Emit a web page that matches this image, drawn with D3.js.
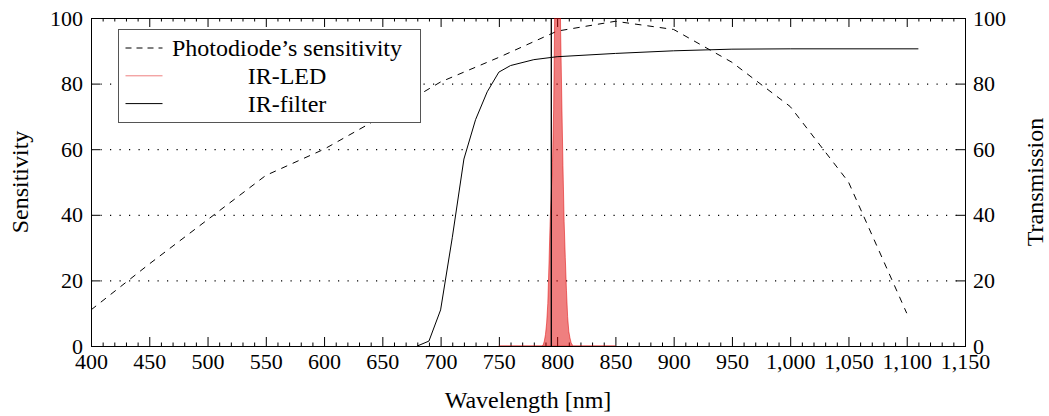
<!DOCTYPE html>
<html>
<head>
<meta charset="utf-8">
<script src="https://cdn.jsdelivr.net/npm/d3@7"></script>
<style>
  body { margin: 0; background: #fff; }
</style>
</head>
<body>
<div id="chart"></div>
<script>
var width  = 1049;
var height = 416;
var margin = {top: 18, right: 84, bottom: 70, left: 91};
var serif  = "'Liberation Serif'";

// tick values
var wavelengthTicks = [400, 450, 500, 550, 600, 650, 700, 750, 800, 850, 900, 950, 1000, 1050, 1100, 1150];
var percentTicks    = [0, 20, 40, 60, 80, 100];
var gridLevels      = [20, 40, 60, 80];

// photodiode sensitivity [nm, %]
var photodiode = [
    [400, 11], [450, 25], [500, 38.5], [550, 52], [600, 60], [650, 70], [700, 80.5],
    [750, 88], [800, 96], [850, 99], [900, 96.5], [950, 86.5], [1000, 73], [1050, 50], [1100, 10]
];

// IR-filter transmission [nm, %]
var irFilter = [
    [680, 0], [690, 1.5], [700, 11], [710, 33], [720, 57], [730, 69], [740, 77.5],
    [750, 83.5], [760, 85.5], [780, 87.3], [800, 88.2], [850, 89.2], [900, 90],
    [950, 90.5], [1000, 90.6], [1110, 90.6]
];

// IR-LED emission [nm, %] (peak goes past the top of the axis)
var irLed = [
    [750, 0], [787, 0], [788, 0.3], [789, 1.5], [790, 3.5], [791, 7], [792, 13], [793, 25],
    [794, 38], [795, 47], [796, 56], [797, 72], [798, 104], [799, 130], [800, 145],
    [801, 145], [802, 125], [803, 96], [804, 75], [805, 55], [806, 38], [807, 27],
    [808, 17], [809, 9], [810, 4.5], [811, 2.5], [812, 1], [813, 0.3], [814, 0], [850, 0]
];

var markerWavelength = 795;

var legendItems = [
    {label: "Photodiode\u2019s sensitivity", type: "dashed"},
    {label: "IR-LED", type: "led"},
    {label: "IR-filter", type: "solid"}
];

var x = d3.scaleLinear()
    .domain([400, 1150])
    .range([margin.left, width - margin.right]);

var y = d3.scaleLinear()
    .domain([0, 100])
    .range([height - margin.bottom, margin.top]);

var svg = d3.select("#chart")
    .append("svg")
    .attr("width", width)
    .attr("height", height);

svg.append("defs").append("clipPath")
    .attr("id", "plotclip")
    .append("rect")
    .attr("x", x(400))
    .attr("y", y(100))
    .attr("width", x(1150) - x(400))
    .attr("height", y(0) - y(100));

// grid
svg.append("g")
    .selectAll("line")
    .data(gridLevels)
    .enter().append("line")
    .attr("x1", x(400))
    .attr("x2", x(1150))
    .attr("y1", function(d) { return y(d) + 0.5; })
    .attr("y2", function(d) { return y(d) + 0.5; })
    .attr("stroke", "#000")
    .attr("stroke-width", 1.3)
    .attr("stroke-dasharray", "1.2,8.3");

// axes
var minorTicks = d3.range(400, 1151, 10).filter(function(d) { return d % 50 !== 0; });

function styleAxis(g) {
    g.select(".domain").remove();
    g.selectAll("line").attr("stroke", "#000");
    g.selectAll("text")
        .style("font-family", serif)
        .style("font-size", "22px")
        .attr("fill", "#000");
}

svg.append("g")
    .attr("transform", "translate(0," + y(0) + ")")
    .call(d3.axisBottom(x).tickValues(minorTicks).tickSize(-3.5).tickFormat(""))
    .call(styleAxis);

svg.append("g")
    .attr("transform", "translate(0," + y(0) + ")")
    .call(d3.axisBottom(x).tickValues(wavelengthTicks).tickSizeInner(-9).tickSizeOuter(0)
        .tickPadding(7).tickFormat(d3.format(",")))
    .call(styleAxis);

svg.append("g")
    .attr("transform", "translate(0," + y(100) + ")")
    .call(d3.axisTop(x).tickValues(minorTicks).tickSize(-3.5).tickFormat(""))
    .call(styleAxis);

svg.append("g")
    .attr("transform", "translate(0," + y(100) + ")")
    .call(d3.axisTop(x).tickValues(wavelengthTicks).tickSize(-9).tickFormat(""))
    .call(styleAxis);

svg.append("g")
    .attr("transform", "translate(" + x(400) + ",0)")
    .call(d3.axisLeft(y).tickValues(percentTicks).tickSizeInner(-9).tickSizeOuter(0).tickPadding(8))
    .call(styleAxis);

svg.append("g")
    .attr("transform", "translate(" + x(1150) + ",0)")
    .call(d3.axisRight(y).tickValues(percentTicks).tickSizeInner(-9).tickSizeOuter(0).tickPadding(8))
    .call(styleAxis);

svg.append("rect")
    .attr("x", x(400) + 0.5)
    .attr("y", y(100) + 0.5)
    .attr("width", x(1150) - x(400))
    .attr("height", y(0) - y(100))
    .attr("fill", "none")
    .attr("stroke", "#000")
    .attr("stroke-width", 1);

// series
var line = d3.line()
    .x(function(d) { return x(d[0]); })
    .y(function(d) { return y(d[1]); });

var area = d3.area()
    .x(function(d) { return x(d[0]); })
    .y0(y(0))
    .y1(function(d) { return y(d[1]); });

svg.append("path")
    .attr("d", line(photodiode))
    .attr("fill", "none")
    .attr("stroke", "#000")
    .attr("stroke-width", 1)
    .attr("stroke-dasharray", "6.5,6");

svg.append("path")
    .attr("clip-path", "url(#plotclip)")
    .attr("d", area(irLed))
    .attr("fill", "#e00000")
    .attr("fill-opacity", 0.5)
    .attr("stroke", "#e00000")
    .attr("stroke-opacity", 0.5)
    .attr("stroke-width", 1);

svg.append("path")
    .attr("d", line(irFilter))
    .attr("fill", "none")
    .attr("stroke", "#000")
    .attr("stroke-width", 1);

svg.append("line")
    .attr("x1", x(markerWavelength))
    .attr("x2", x(markerWavelength))
    .attr("y1", y(0))
    .attr("y2", y(100))
    .attr("stroke", "#000")
    .attr("stroke-width", 1.3);

// legend
var legend = svg.append("g")
    .attr("transform", "translate(118.5,29.5)");

legend.append("rect")
    .attr("width", 302)
    .attr("height", 93)
    .attr("fill", "#fff")
    .attr("stroke", "#555")
    .attr("stroke-width", 1);

var item = legend.selectAll(".item")
    .data(legendItems)
    .enter().append("g")
    .attr("class", "item")
    .attr("transform", function(d, i) { return "translate(0," + (18.5 + i * 27.8) + ")"; });

item.append("line")
    .attr("x1", 7)
    .attr("x2", 44)
    .attr("stroke", function(d) { return d.type === "led" ? "#e00000" : "#000"; })
    .attr("stroke-opacity", function(d) { return d.type === "led" ? 0.5 : 1; })
    .attr("stroke-dasharray", function(d) { return d.type === "dashed" ? "6,5" : null; })
    .attr("stroke-width", 1);

item.append("text")
    .attr("x", 168.5)
    .attr("dy", "0.33em")
    .attr("text-anchor", "middle")
    .style("font-family", serif)
    .style("font-size", "24px")
    .text(function(d) { return d.label; });

// axis titles
svg.append("text")
    .attr("x", (x(400) + x(1150)) / 2)
    .attr("y", 408)
    .attr("text-anchor", "middle")
    .style("font-family", serif)
    .style("font-size", "24px")
    .text("Wavelength [nm]");

svg.append("text")
    .attr("transform", "translate(28," + ((y(0) + y(100)) / 2) + ") rotate(-90)")
    .attr("text-anchor", "middle")
    .style("font-family", serif)
    .style("font-size", "24px")
    .text("Sensitivity");

svg.append("text")
    .attr("transform", "translate(1043," + ((y(0) + y(100)) / 2) + ") rotate(-90)")
    .attr("text-anchor", "middle")
    .style("font-family", serif)
    .style("font-size", "24px")
    .text("Transmission");
</script>
</body>
</html>
